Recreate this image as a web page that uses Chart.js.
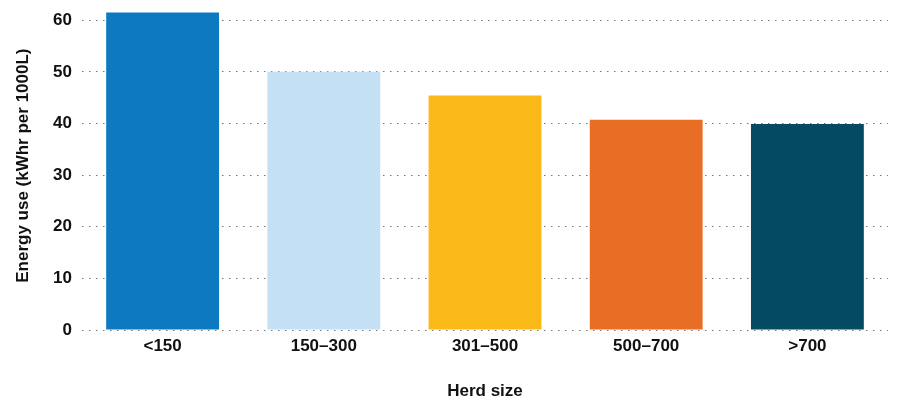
<!DOCTYPE html>
<html lang="en">
<head>
    <meta charset="UTF-8">
    <title>Energy use by herd size</title>
    <style>
        html, body {
            margin: 0;
            padding: 0;
            background-color: #fff;
        }
        .chart-box {
            position: relative;
            width: 898px;
            height: 400px;
        }
    </style>
    <script src="https://cdn.jsdelivr.net/npm/chart.js"></script>
</head>
<body>
    <div class="chart-box">
        <canvas id="grafica"></canvas>
    </div>

    <script>
        // data
        const herdSizes = ['<150', '150–300', '301–500', '500–700', '>700'];
        const energyUse = [61.5, 50.0, 45.4, 40.7, 39.9];
        const barColors = ['#0c79c1', '#c3e0f5', '#fbb919', '#e86e25', '#044a63'];
        const yTicks = [0, 10, 20, 30, 40, 50, 60];

        const fontFamily = "'Liberation Sans', Arial, Helvetica, sans-serif";
        const textColor = '#111';

        const ctx = document.getElementById('grafica').getContext('2d');
        const chart = new Chart(ctx, {
            type: 'bar',
            data: {
                labels: herdSizes,
                datasets: [{
                    data: energyUse,
                    backgroundColor: barColors,
                    borderWidth: 0,
                    barPercentage: 0.7,
                    categoryPercentage: 1,
                    clip: false   // first bar goes a little over the 60 line
                }]
            },
            options: {
                responsive: true,
                maintainAspectRatio: false,
                animation: false,
                layout: { padding: { top: 0, right: 10, bottom: 0, left: 0 } },
                plugins: {
                    legend: { display: false },
                    tooltip: { enabled: false }
                },
                scales: {
                    x: {
                        grid: { display: false, drawTicks: false },
                        border: { display: false },
                        ticks: {
                            color: textColor,
                            padding: 6,
                            font: { family: fontFamily, size: 17, weight: 'bold' }
                        },
                        title: {
                            display: true,
                            text: 'Herd size',
                            color: textColor,
                            padding: { top: 0, bottom: -2 },
                            font: { family: fontFamily, size: 17, weight: 'bold' }
                        },
                        afterFit: s => { s.height = 70; }
                    },
                    y: {
                        min: 0,
                        max: 60,
                        afterBuildTicks: s => {
                            s.ticks = yTicks.map(v => ({ value: v }));
                        },
                        grid: {
                            color: '#777',
                            lineWidth: 1,
                            drawTicks: false
                        },
                        border: { display: false, dash: [1.5, 5.5] },
                        ticks: {
                            color: textColor,
                            padding: 10,
                            font: { family: fontFamily, size: 17, weight: 'bold' }
                        },
                        title: {
                            display: true,
                            text: '    Energy use (kWhr per 1000L)',
                            color: textColor,
                            padding: { top: 13, bottom: 0 },
                            font: { family: fontFamily, size: 17, weight: 'bold' }
                        },
                        afterFit: s => { s.width = 82; }
                    }
                }
            }
        });
    </script>
</body>
</html>
